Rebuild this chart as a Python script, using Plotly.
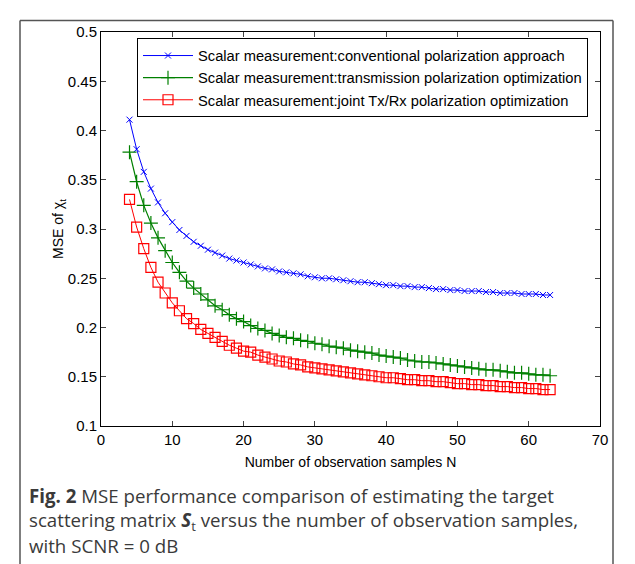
import plotly.graph_objects as go

N = list(range(4, 64))

mse_conventional = [0.411, 0.381, 0.358, 0.341, 0.327, 0.316, 0.307, 0.299, 0.293, 0.287,
                    0.283, 0.279, 0.276, 0.273, 0.270, 0.268, 0.266, 0.264, 0.262, 0.260,
                    0.259, 0.257, 0.256, 0.255, 0.254, 0.252, 0.251, 0.250, 0.250, 0.249,
                    0.248, 0.247, 0.246, 0.246, 0.245, 0.244, 0.243, 0.243, 0.242, 0.242,
                    0.241, 0.241, 0.240, 0.239, 0.239, 0.238, 0.238, 0.237, 0.237, 0.237,
                    0.236, 0.236, 0.235, 0.235, 0.235, 0.234, 0.234, 0.234, 0.233, 0.233]

mse_transmission = [0.378, 0.348, 0.324, 0.306, 0.291, 0.278, 0.266, 0.256, 0.247, 0.240,
                    0.234, 0.228, 0.222, 0.218, 0.213, 0.209, 0.206, 0.202, 0.199, 0.197,
                    0.194, 0.192, 0.190, 0.189, 0.187, 0.186, 0.184, 0.183, 0.181, 0.180,
                    0.179, 0.177, 0.176, 0.175, 0.174, 0.172, 0.171, 0.170, 0.169, 0.167,
                    0.166, 0.165, 0.165, 0.164, 0.163, 0.162, 0.161, 0.160, 0.159, 0.158,
                    0.157, 0.157, 0.156, 0.155, 0.154, 0.154, 0.153, 0.152, 0.152, 0.151]

mse_joint = [0.330, 0.302, 0.280, 0.261, 0.246, 0.235, 0.225, 0.217, 0.209, 0.204,
             0.198, 0.194, 0.190, 0.186, 0.182, 0.179, 0.176, 0.175, 0.172, 0.170,
             0.168, 0.166, 0.165, 0.163, 0.162, 0.160, 0.159, 0.158, 0.157, 0.156,
             0.155, 0.154, 0.153, 0.152, 0.151, 0.150, 0.149, 0.149, 0.148, 0.147,
             0.147, 0.146, 0.146, 0.145, 0.145, 0.144, 0.143, 0.143, 0.142, 0.142,
             0.141, 0.141, 0.140, 0.140, 0.139, 0.139, 0.138, 0.138, 0.137, 0.137]

names = ["Scalar measurement:conventional polarization approach",
         "Scalar measurement:transmission polarization optimization",
         "Scalar measurement:joint Tx/Rx polarization optimization"]

x_ticks = [0, 10, 20, 30, 40, 50, 60, 70]
y_ticks = [0.1, 0.15, 0.2, 0.25, 0.3, 0.35, 0.4, 0.45, 0.5]
y_tick_text = ["0.1", "0.15", "0.2", "0.25", "0.3", "0.35", "0.4", "0.45", "0.5"]

FONT = "Liberation Sans, Arial, sans-serif"

fig = go.Figure()
fig.add_trace(go.Scatter(x=N, y=mse_conventional, mode="lines+markers", name=names[0],
                         line=dict(color="#0000ff", width=1),
                         marker=dict(symbol="x-thin", size=6, line=dict(color="#0000ff", width=1))))
fig.add_trace(go.Scatter(x=N, y=mse_transmission, mode="lines+markers", name=names[1],
                         line=dict(color="#008000", width=1.2),
                         marker=dict(symbol="cross-thin", size=10, line=dict(color="#008000", width=1.2))))
fig.add_trace(go.Scatter(x=N, y=mse_joint, mode="lines+markers", name=names[2],
                         line=dict(color="#ff0000", width=1),
                         marker=dict(symbol="square-open", size=10, color="#ff0000", line=dict(width=1.2))))

# page has an 8px body margin: work in screenshot pixels, convert to figure pixels
OFF = 8
W, H = 635 - OFF, 564 - OFF
PLOT_X0, PLOT_X1, PLOT_Y0, PLOT_Y1 = 101, 600, 31.5, 426   # screenshot pixels
L = PLOT_X0 - OFF
R = W - (PLOT_X1 - OFF)
T = PLOT_Y0 - OFF
B = H - (PLOT_Y1 - OFF)
pw, ph = PLOT_X1 - PLOT_X0, PLOT_Y1 - PLOT_Y0

def px(xs):
    return (xs - PLOT_X0) / pw

def py(ys):
    return (PLOT_Y1 - ys) / ph

fig.update_layout(
    width=W, height=H,
    margin=dict(l=L, r=R, t=T, b=B),
    paper_bgcolor="white", plot_bgcolor="white",
    font=dict(family=FONT, size=15, color="black"),
    showlegend=True,
    legend=dict(x=px(137), y=py(38), xanchor="left", yanchor="top",
                bgcolor="white", bordercolor="black", borderwidth=1,
                font=dict(family=FONT, size=14.7, color="black"),
                tracegroupgap=0, itemwidth=50),
    xaxis=dict(range=[0, 70], tickvals=x_ticks, ticks="inside", ticklen=5,
               showline=True, linecolor="black", linewidth=1, mirror="ticks",
               showgrid=False, zeroline=False, tickfont=dict(size=15),
               title=dict(text="Number of observation samples N", font=dict(size=14), standoff=10)),
    yaxis=dict(range=[0.1, 0.5], tickvals=y_ticks, ticktext=y_tick_text, ticks="inside", ticklen=5,
               showline=True, linecolor="black", linewidth=1, mirror="ticks",
               showgrid=False, zeroline=False, tickfont=dict(size=15),
               title=dict(text="MSE of χ<sub>t</sub>", font=dict(size=14), standoff=0)),
)

cap_font = dict(family="Open Sans, sans-serif", size=18.7, color="#3a3a3a")
captions = ["<b>Fig. 2</b> MSE performance comparison of estimating the target",
            "scattering matrix <b><i>S</i></b><sub>t</sub> versus the number of observation samples,",
            "with SCNR = 0 dB"]
cap_y = [496, 521, 546]
for txt, yy in zip(captions, cap_y):
    fig.add_annotation(text=txt, xref="paper", yref="paper", x=px(27), y=py(yy),
                       xanchor="left", yanchor="middle", showarrow=False, font=cap_font)

# figure frame
x0, y0, x1, y1 = px(20), py(20), px(613), py(600)
frame = dict(color="#555555", width=1.5)
fig.add_shape(type="line", xref="paper", yref="paper", x0=x0, y0=y0, x1=x0, y1=y1, line=frame)
fig.add_shape(type="line", xref="paper", yref="paper", x0=x0, y0=y0, x1=x1, y1=y0, line=frame)
fig.add_shape(type="line", xref="paper", yref="paper", x0=x1, y0=y0, x1=x1, y1=y1, line=frame)

fig.write_html("out.html")
